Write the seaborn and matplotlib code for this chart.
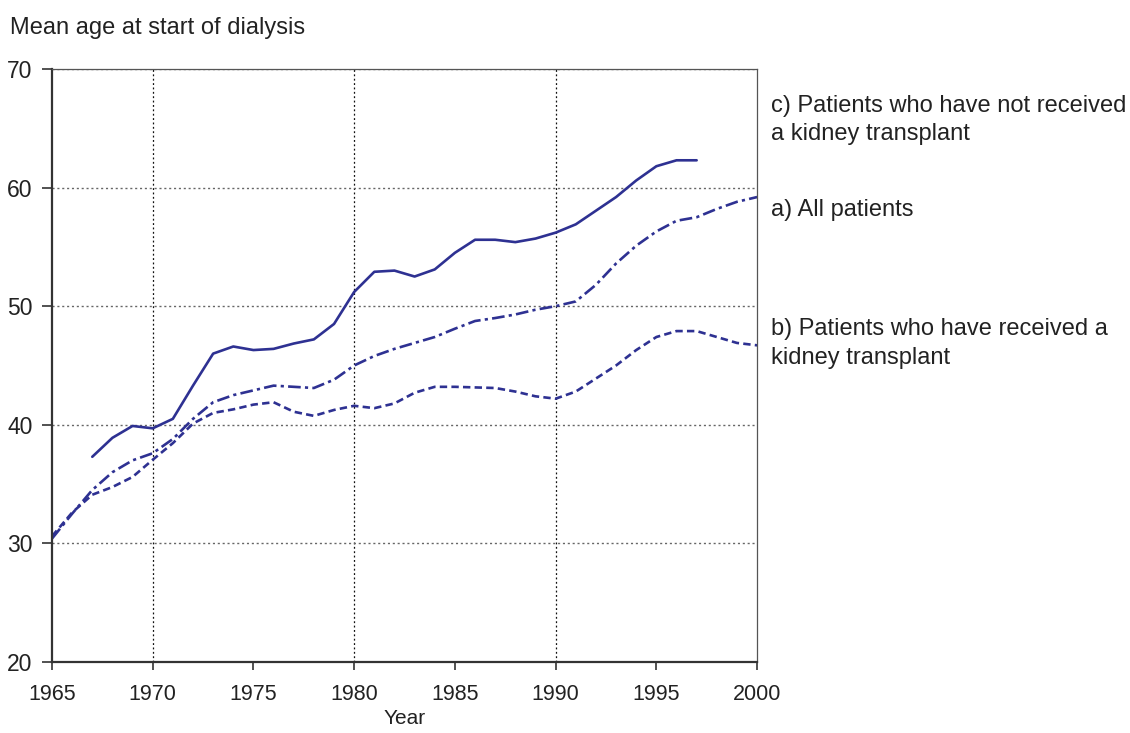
import numpy as np
import pandas as pd
import seaborn as sns
import matplotlib.pyplot as plt
from matplotlib.ticker import MultipleLocator, FixedLocator

# Werte
years = list(range(1965, 2001))

all_patients = [30.4, 32.5, 34.5, 36.0, 37.0, 37.6, 38.8, 40.5, 41.9, 42.5,
                42.9, 43.3, 43.2, 43.1, 43.8, 45.0, 45.8, 46.4, 46.9, 47.4,
                48.1, 48.75, 49.0, 49.3, 49.7, 50.0, 50.4, 51.8, 53.6, 55.1,
                56.3, 57.2, 57.5, 58.2, 58.8, 59.2]

transplant = [30.6, 32.6, 34.1, 34.75, 35.6, 37.05, 38.45, 40.1, 41.0, 41.3,
              41.7, 41.9, 41.1, 40.75, 41.25, 41.6, 41.4, 41.8, 42.7, 43.2,
              43.2, 43.15, 43.1, 42.8, 42.4, 42.2, 42.8, 43.9, 45.0, 46.3,
              47.4, 47.9, 47.9, 47.4, 46.9, 46.7]

no_transplant = [np.nan, np.nan, 37.3, 38.9, 39.9, 39.7, 40.5, 43.3, 46.0, 46.6,
                 46.3, 46.4, 46.85, 47.2, 48.5, 51.2, 52.9, 53.0, 52.5, 53.1,
                 54.5, 55.6, 55.6, 55.4, 55.7, 56.2, 56.9, 58.05, 59.2, 60.6,
                 61.8, 62.3, 62.3, np.nan, np.nan, np.nan]

series_names = ["a", "b", "c"]
labels = {
    "c": "c) Patients who have not received\na kidney transplant",
    "a": "a) All patients",
    "b": "b) Patients who have received a\nkidney transplant",
}

df = pd.DataFrame({
    "Year": years * 3,
    "Age": all_patients + transplant + no_transplant,
    "Serie": ["a"] * len(years) + ["b"] * len(years) + ["c"] * len(years),
})
df = df.dropna()

sns.set_style("white")
plt.rcParams["font.family"] = ["Liberation Sans", "DejaVu Sans"]

farbe = "#2e3192"
text_farbe = "#222222"

fig = plt.figure(figsize=(11.3, 7.33), dpi=100)
ax = fig.add_axes([0.046, 0.0969, 0.624, 0.809])

sns.lineplot(
    data=df, x="Year", y="Age", style="Serie", style_order=series_names,
    dashes={"a": (4.8, 1.6, 1.2, 1.6), "b": (2.8, 1.6), "c": ""},
    color=farbe, linewidth=1.9, legend=False, ax=ax, estimator=None,
)

ax.set_xlim(1965, 2000)
ax.set_ylim(20, 70)
ax.xaxis.set_major_locator(MultipleLocator(5))
ax.xaxis.set_minor_locator(FixedLocator([1970, 1980, 1990]))
ax.xaxis.remove_overlapping_locs = False
ax.yaxis.set_major_locator(MultipleLocator(10))

# Gitternetz: horizontal grau, vertikal schwarz (nur alle 10 Jahre)
ax.grid(False)
ax.grid(axis="y", which="major", linestyle=(0, (1.5, 2)), color="#666666", linewidth=1.0)
ax.grid(axis="x", which="minor", linestyle=(0, (1.5, 2)), color="#111111", linewidth=0.9)
ax.set_axisbelow(True)

ax.tick_params(axis="x", which="major", direction="out", length=6, width=1.2,
               color="#333333", pad=10, labelsize=15.5, bottom=True,
               labelcolor=text_farbe)
ax.tick_params(axis="x", which="minor", length=0, bottom=True)
ax.tick_params(axis="y", direction="out", length=7, width=1.2, color="#333333",
               pad=7, labelsize=16.5, left=True, labelcolor=text_farbe)

for side in ["left", "bottom"]:
    ax.spines[side].set_linewidth(1.6)
    ax.spines[side].set_color("#333333")
for side in ["top", "right"]:
    ax.spines[side].set_linewidth(0.9)
    ax.spines[side].set_color("#555555")

ax.set_xlabel("Year", fontsize=15, color=text_farbe, labelpad=3)
ax.set_ylabel("")

fig.text(0.0088, 0.977, "Mean age at start of dialysis", fontsize=17,
         color=text_farbe, va="top", ha="left")

fig.text(0.682, 0.871, labels["c"], fontsize=17, color=text_farbe,
         va="top", ha="left", linespacing=1.4)
fig.text(0.682, 0.729, labels["a"], fontsize=17, color=text_farbe,
         va="top", ha="left")
fig.text(0.682, 0.566, labels["b"], fontsize=17, color=text_farbe,
         va="top", ha="left", linespacing=1.4)

fig.savefig("out.png", dpi=100)
